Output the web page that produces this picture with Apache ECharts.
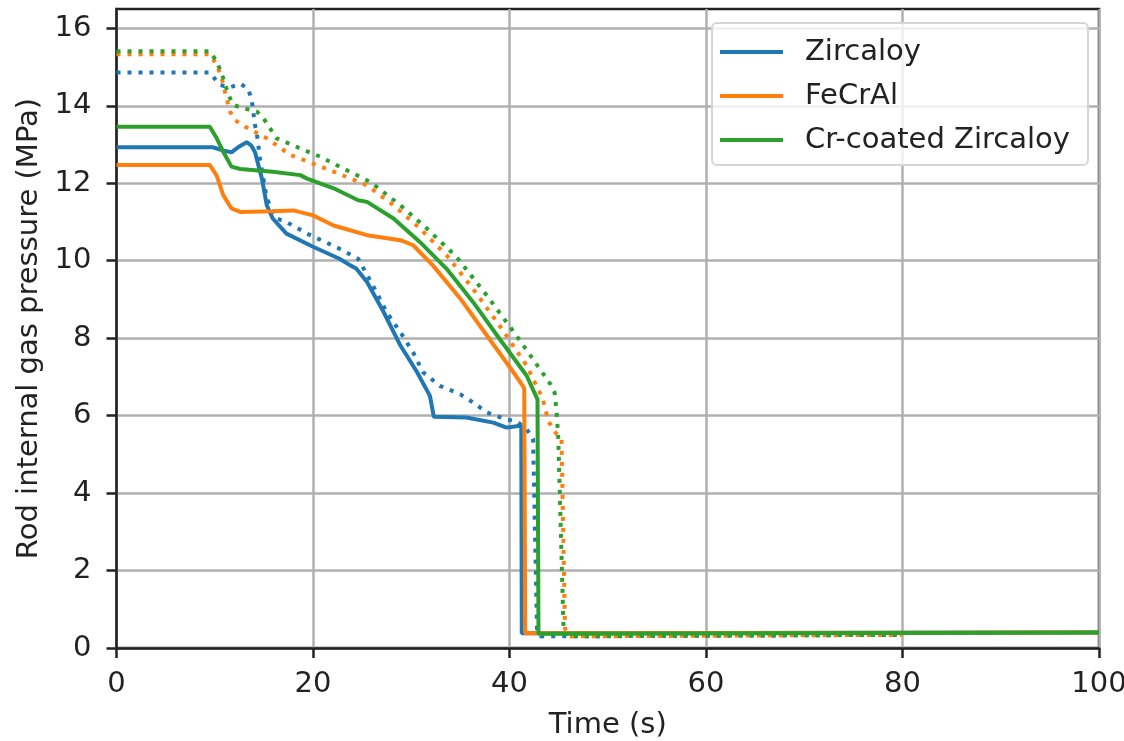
<!DOCTYPE html>
<html>
<head>
<meta charset="utf-8">
<script src="https://cdn.jsdelivr.net/npm/echarts@6/dist/echarts.min.js"></script>
<style>html,body{margin:0;padding:0;background:#fff;}#c{width:1124px;height:741px;}</style>
</head>
<body>
<div id="c"></div>
<script>
const seriesNames = ['Zircaloy', 'FeCrAl', 'Cr-coated Zircaloy'];
const xTicks = [0, 20, 40, 60, 80, 100];
const yTicks = [0, 2, 4, 6, 8, 10, 12, 14, 16];

const zircSolid = [[0,12.93],[9.8,12.93],[10.8,12.85],[11.7,12.8],[12.5,12.95],[13.25,13.06],[13.7,12.98],[14.1,12.8],[14.8,12.12],[15.3,11.43],[15.9,11.09],[17.3,10.7],[20,10.36],[22.7,10.05],[23.8,9.88],[24.4,9.8],[25.5,9.45],[27.2,8.67],[28.9,7.81],[30.6,7.12],[31.9,6.51],[32.3,5.97],[35.6,5.95],[38.35,5.82],[39.7,5.69],[40.9,5.73],[41.2,5.75],[41.25,0.38],[100,0.4]];
const zircDotted = [[0,14.86],[9.5,14.86],[10.5,14.54],[11.55,14.48],[12.6,14.57],[13.4,14.44],[13.76,14.15],[14.1,13.5],[14.3,13.25],[14.6,12.64],[15.3,11.6],[16.3,11.09],[17.3,11.0],[19.4,10.7],[22.7,10.31],[24.6,10.05],[26.1,9.36],[27.5,8.67],[28.9,8.15],[30.2,7.63],[31.2,7.12],[32.9,6.77],[35,6.55],[36.3,6.34],[37.7,6.08],[39.7,5.9],[40.7,5.86],[41.75,5.65],[42.4,5.4],[42.8,0.5],[43.2,0.3],[80,0.34]];
const fecrSolid = [[0,12.47],[9.5,12.47],[10.2,12.2],[10.85,11.7],[11.7,11.35],[12.6,11.26],[15.9,11.28],[18,11.3],[20,11.17],[22.1,10.91],[25.5,10.66],[28.9,10.53],[30.2,10.4],[32.2,9.88],[35,9.02],[37.7,8.07],[40.4,7.12],[41.25,6.81],[41.5,6.7],[41.6,0.38],[100,0.4]];
const fecrDotted = [[0,15.33],[9.5,15.33],[10.2,15.06],[10.7,14.72],[11.2,14.2],[11.55,13.85],[12.06,13.63],[13.1,13.46],[15.3,13.16],[17.7,12.73],[20,12.51],[22.1,12.3],[25.5,11.95],[28.2,11.43],[30.9,10.83],[33.6,10.14],[36.3,9.27],[39,8.32],[41.75,7.29],[43.4,6.42],[43.95,5.86],[44.56,5.6],[45.3,5.38],[45.65,0.5],[46.1,0.3],[80,0.34]];
const crzrSolid = [[0,13.46],[9.5,13.46],[10.2,13.16],[10.85,12.82],[11.7,12.43],[12.6,12.37],[15.9,12.3],[18.7,12.21],[19.4,12.12],[22.1,11.87],[24.6,11.56],[25.5,11.52],[28.2,11.09],[30.9,10.48],[33.6,9.79],[36.3,8.93],[39,7.98],[41.75,7.03],[42.85,6.42],[42.95,0.37],[100,0.4]];
const crzrDotted = [[0,15.41],[9.5,15.41],[10.2,15.14],[10.7,14.84],[11.4,14.28],[11.9,14.02],[12.9,13.94],[14.3,13.85],[14.95,13.68],[16.3,13.16],[18.7,12.9],[20.7,12.69],[22.7,12.43],[25.8,12.04],[28.9,11.43],[31.6,10.83],[34.6,10.1],[37.7,9.1],[40.7,8.07],[43.1,7.2],[44.2,6.8],[44.6,6.59],[44.8,6.07],[44.97,5.38],[45.5,0.5],[45.9,0.3],[80,0.34]];

const colors = ['#1f77b4', '#ff7f0e', '#2ca02c'];
const FONT = 'DejaVu Sans';
const TXT = '#222';
const FS = 29;

function line(name, data, color, dotted) {
  return {
    name: name, type: 'line', data: data, showSymbol: false, symbol: 'none',
    lineStyle: { color: color, width: 4, type: dotted ? [4, 7] : 'solid', cap: 'butt' },
    itemStyle: { color: color }, animation: false, silent: true
  };
}

const chart = echarts.init(document.getElementById('c'), null, { renderer: 'canvas' });
chart.setOption({
  animation: false,
  backgroundColor: '#fff',
  grid: { left: 116.5, right: 25, top: 9, bottom: 93, outerBoundsMode: 'none', containLabel: false, show: true, borderColor: '#222', borderWidth: 2.5, backgroundColor: 'transparent' },
  legend: {
    data: seriesNames.map(n => ({ name: n, icon: 'rect' })),
    orient: 'vertical', left: 712, top: 23,
    itemWidth: 63, itemHeight: 4, itemGap: 14,
    padding: [14, 18, 10, 8],
    backgroundColor: 'rgba(255,255,255,0.8)', borderColor: '#d5d5d5', borderWidth: 2, borderRadius: 5,
    textStyle: { fontFamily: FONT, fontSize: FS, color: TXT, lineHeight: 30, padding: [0, 0, 0, 17] }
  },
  xAxis: {
    type: 'value', min: 0, max: 100, interval: 20,
    name: 'Time (s)', nameLocation: 'middle', nameGap: 63,
    nameTextStyle: { fontFamily: FONT, fontSize: FS, color: TXT },
    axisLine: { show: true, lineStyle: { color: '#222', width: 2.5 } },
    axisTick: { show: true, length: 10, lineStyle: { color: '#222', width: 2.5 } },
    axisLabel: { fontFamily: FONT, fontSize: FS, color: TXT, margin: 22, formatter: v => (xTicks.includes(v) ? String(v) : '') },
    splitLine: { show: true, lineStyle: { color: '#b0b0b0', width: 2.5 } }
  },
  yAxis: {
    type: 'value', min: 0, max: 16.5, interval: 2,
    name: 'Rod internal gas pressure (MPa)', nameLocation: 'middle', nameGap: 72,
    nameTextStyle: { fontFamily: FONT, fontSize: FS, color: TXT },
    axisLine: { show: true, lineStyle: { color: '#222', width: 2.5 } },
    axisTick: { show: true, length: 10, customValues: yTicks, lineStyle: { color: '#222', width: 2.5 } },
    axisLabel: { fontFamily: FONT, fontSize: FS, color: TXT, margin: 25, customValues: yTicks, formatter: v => String(v) },
    splitLine: { show: true, lineStyle: { color: '#b0b0b0', width: 2.5 } }
  },
  series: [
    line('Zircaloy', zircSolid, colors[0], false),
    line('Zircaloy dotted', zircDotted, colors[0], true),
    line('FeCrAl', fecrSolid, colors[1], false),
    line('FeCrAl dotted', fecrDotted, colors[1], true),
    line('Cr-coated Zircaloy', crzrSolid, colors[2], false),
    line('Cr-coated Zircaloy dotted', crzrDotted, colors[2], true)
  ]
});
</script>
</body>
</html>
